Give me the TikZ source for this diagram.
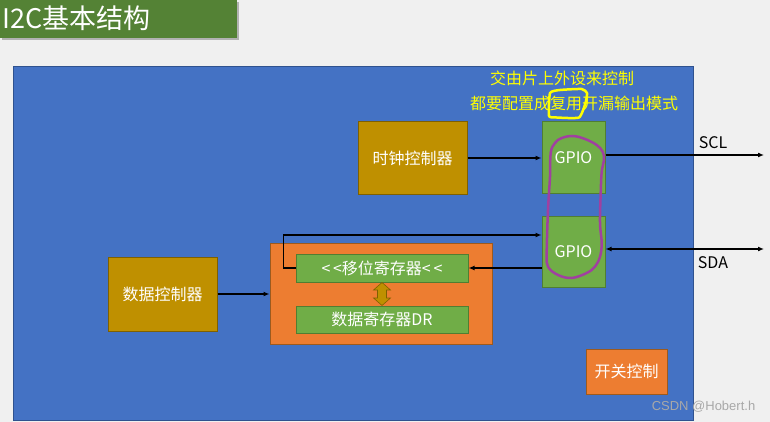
\documentclass[tikz,border=0pt]{standalone}
\usepackage{fontspec}
\setmainfont{Noto Sans CJK SC}
\newfontfamily\wmfont{Liberation Sans}
\usetikzlibrary{arrows.meta}
\definecolor{bgc}{HTML}{F0F0F0}
\definecolor{titleg}{HTML}{548235}
\definecolor{blu}{HTML}{4472C4}
\definecolor{bluedge}{HTML}{2F528F}
\definecolor{org}{HTML}{ED7D31}
\definecolor{orgedge}{HTML}{9C5A1E}
\definecolor{grn}{HTML}{70AD47}
\definecolor{grnedge}{HTML}{507E32}
\definecolor{gold}{HTML}{BF9000}
\definecolor{goldedge}{HTML}{7F6000}
\definecolor{purp}{HTML}{A040A0}
\definecolor{yel}{HTML}{FFFF00}
\definecolor{wmgray}{HTML}{A8A8A8}
\tikzset{
  boxbase/.style={rectangle, inner sep=0pt, text=white, font=\fontsize{16}{19}\selectfont},
  goldbox/.style={boxbase, fill=gold, draw=goldedge, line width=1pt},
  greenbox/.style={boxbase, fill=grn, draw=grnedge, line width=1pt},
  orangebox/.style={boxbase, fill=org, draw=orgedge, line width=1pt},
  arr/.style={line width=1.5pt, -{Latex[length=6pt,width=5pt]}},
  darr/.style={line width=1.5pt, {Latex[length=6pt,width=5pt]}-{Latex[length=6pt,width=5pt]}},
  lbl/.style={font=\fontsize{16}{19}\selectfont, inner sep=0pt},
}
\begin{document}
\begin{tikzpicture}[x=1pt,y=-1pt]
\useasboundingbox (0,0) rectangle (770,422);
\fill[bgc] (0,0) rectangle (770,422);
% title
\fill[gray!60] (2,2) rectangle (239,40);
\node[fill=titleg, minimum width=237pt, minimum height=38pt, inner sep=0pt, anchor=north west] (title) at (0,0) {};
\node[anchor=west, text=white, inner sep=0pt, font=\fontsize{27}{30}\selectfont] (titletext) at (2,18) {I2C基本结构};
% blue panel
\node[rectangle, fill=blu, draw=bluedge, line width=1pt, minimum width=680pt, minimum height=353pt, inner sep=0pt] (panel) at (353,243.5) {};
% yellow notes
\node[lbl, text=yel] (note1) at (562,78) {交由片上外设来控制};
\node[lbl, text=yel] (note2) at (574,103) {都要配置成复用开漏输出模式};
% boxes
\node[goldbox, minimum width=109pt, minimum height=72pt] (clock) at (412.5,158) {时钟控制器};
\node[greenbox, minimum width=63pt, minimum height=71pt] (gpio1) at (573.5,157.5) {GPIO};
\node[greenbox, minimum width=63pt, minimum height=71pt] (gpio2) at (573.5,251.5) {GPIO};
\node[goldbox, minimum width=109pt, minimum height=74pt] (datactl) at (162.5,294) {数据控制器};
\node[orangebox, minimum width=222pt, minimum height=101pt] (outer) at (381,293.5) {};
\node[greenbox, minimum width=172pt, minimum height=28pt] (shift) at (382,268) {<\,<移位寄存器<\,<};
\node[greenbox, minimum width=172pt, minimum height=27pt] (dr) at (382,319.5) {数据寄存器DR};
\node[orangebox, minimum width=81pt, minimum height=45pt] (switch) at (626.5,371.5) {开关控制};
% block double arrow between the registers
\filldraw[fill=gold, draw=goldedge, line width=0.6pt, line join=miter]
  (382,282.5) -- (390.5,290) -- (386.5,290) -- (386.5,298) -- (390.5,298) -- (382,305.5)
  -- (373.5,298) -- (377.5,298) -- (377.5,290) -- (373.5,290) -- cycle;
% connectors
\coordinate (sclend) at (764,155);
\coordinate (sdaend) at (764,249);
\coordinate (loopy) at (0,235);
\draw[arr] (clock.east) -- (clock.east -| gpio1.west);
\draw[arr] (gpio1.east |- sclend) -- (sclend);
\draw[darr] (gpio2.east |- sdaend) -- (sdaend);
\draw[arr] (datactl.east) -- (datactl.east -| outer.west);
\draw[arr] (shift.west) -- ++(-12,0) |- (gpio2.west |- loopy);
\draw[arr] (gpio2.west |- shift.east) -- (shift.east);
% labels
\node[lbl] (scl) at (713,143) {SCL};
\node[lbl] (sda) at (713,263) {SDA};
% hand-drawn marks
\draw[purp, line width=2.5pt, line join=round] plot[smooth cycle, tension=0.6] coordinates {
 (550.7,152.7) (555,143) (561.7,138) (573,136) (585,139) (596.7,145) (602.7,151.7) (604,160)
 (601.7,171.7) (600.7,193) (600,223) (601.7,243) (600,256.7) (595,266.7) (586.7,273)
 (571.7,278) (558,275) (548,266.7) (546.7,253) (548,210) (550,176.7)};
\draw[yel, line width=2.5pt, line join=round] plot[smooth cycle, tension=0.3] coordinates {
 (549,116) (550,93) (560,90) (581.7,89) (587,93) (585.5,103) (579,117.5) (556.7,117.5)};
% watermark
\node[text=wmgray, font=\wmfont\fontsize{13}{15}\selectfont, inner sep=0pt] (wm) at (703.5,407) {CSDN @Hobert.h};
\end{tikzpicture}
\end{document}
